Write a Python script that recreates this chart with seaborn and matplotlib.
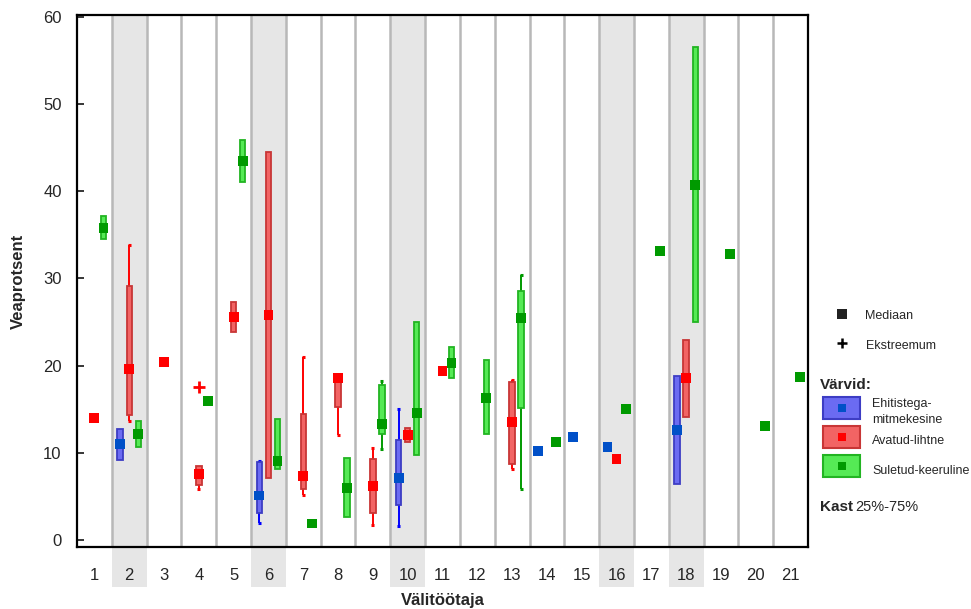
import numpy as np
import pandas as pd
import matplotlib
matplotlib.use("Agg")
import matplotlib.pyplot as plt
from matplotlib.patches import Rectangle
import seaborn as sns

# ---- data -------------------------------------------------------------
columns = list(range(1, 22))
groups = ["Ehitistega-mitmekesine", "Avatud-lihtne", "Suletud-keeruline"]
shaded_columns = [2, 6, 10, 16, 18]

nan = np.nan
# Ehitistega-mitmekesine
blue_median = [nan, 11.0, nan, nan, nan, 5.1, nan, nan, nan, 7.1, nan, nan, nan, 10.2, 11.8, 10.7, nan, 12.6, nan, nan, nan]
blue_q1     = [nan, 9.2,  nan, nan, nan, 3.1, nan, nan, nan, 4.0, nan, nan, nan, nan, nan, nan, nan, 6.4,  nan, nan, nan]
blue_q3     = [nan, 12.7, nan, nan, nan, 8.9, nan, nan, nan, 11.5, nan, nan, nan, nan, nan, nan, nan, 18.8, nan, nan, nan]
blue_low    = [nan, nan,  nan, nan, nan, 2.0, nan, nan, nan, 1.6, nan, nan, nan, nan, nan, nan, nan, nan,  nan, nan, nan]
blue_high   = [nan, nan,  nan, nan, nan, 9.1, nan, nan, nan, 15.0, nan, nan, nan, nan, nan, nan, nan, nan, nan, nan, nan]

# Avatud-lihtne
red_median = [14.0, 19.6, 20.4, 7.6, 25.6, 25.8, 7.3, 18.6, 6.2, 12.0, 19.4, nan, 13.5, nan, nan, 9.3, nan, 18.6, nan, nan, nan]
red_q1     = [nan, 14.3, nan, 6.3, 23.8, 7.1, 5.9, 15.2, 3.1, 11.2, nan, nan, 8.7, nan, nan, nan, nan, 14.1, nan, nan, nan]
red_q3     = [nan, 29.1, nan, 8.5, 27.3, 44.5, 14.4, 18.9, 9.3, 12.9, nan, nan, 18.1, nan, nan, nan, nan, 22.9, nan, nan, nan]
red_low    = [nan, 13.7, nan, 5.9, nan, nan, 5.2, 12.0, 1.75, nan, nan, nan, 8.1, nan, nan, nan, nan, nan, nan, nan, nan]
red_high   = [nan, 33.8, nan, nan, nan, nan, 21.0, nan, 10.5, nan, nan, nan, 18.3, nan, nan, nan, nan, nan, nan, nan, nan]
red_extreme = [nan, nan, nan, 17.5, nan, nan, nan, nan, nan, nan, nan, nan, nan, nan, nan, nan, nan, nan, nan, nan, nan]

# Suletud-keeruline
green_median = [35.8, 12.2, nan, 15.9, 43.5, 9.1, 1.9, 6.0, 13.3, 14.6, 20.3, 16.3, 25.5, 11.2, nan, 15.0, 33.1, 40.7, 32.8, 13.1, 18.7]
green_q1     = [34.5, 10.7, nan, nan, 41.1, 8.1, nan, 2.6, 12.2, 9.8, 18.6, 12.2, 15.1, 10.9, nan, nan, nan, 25.0, nan, nan, nan]
green_q3     = [37.2, 13.6, nan, nan, 45.9, 13.9, nan, 9.4, 17.8, 25.0, 22.1, 20.6, 28.5, 11.5, nan, nan, nan, 56.5, nan, nan, nan]
green_low    = [nan, nan, nan, nan, nan, nan, nan, nan, 10.4, nan, nan, nan, 5.9, nan, nan, nan, nan, nan, nan, nan, nan]
green_high   = [nan, nan, nan, nan, nan, nan, nan, nan, 18.2, nan, nan, nan, 30.4, nan, nan, nan, nan, nan, nan, nan, nan]

# ---- styling ------------------------------------------------------------
offsets = {groups[0]: -0.26, groups[1]: 0.0, groups[2]: 0.26}
box_fill = {groups[0]: "#6b6bf2", groups[1]: "#f26464", groups[2]: "#55ea55"}
box_edge = {groups[0]: "#3d3dc4", groups[1]: "#c83636", groups[2]: "#22b422"}
whisker_col = {groups[0]: "#0000ff", groups[1]: "#ff0000", groups[2]: "#009a00"}
median_col = {groups[0]: "#0050c8", groups[1]: "#ff0000", groups[2]: "#009a00"}

frames = []
for g, (m, q1, q3, lo, hi) in zip(groups, [
        (blue_median, blue_q1, blue_q3, blue_low, blue_high),
        (red_median, red_q1, red_q3, red_low, red_high),
        (green_median, green_q1, green_q3, green_low, green_high)]):
    frames.append(pd.DataFrame({"column": columns, "group": g, "median": m,
                                "q1": q1, "q3": q3, "low": lo, "high": hi}))
df = pd.concat(frames, ignore_index=True)
df["pos"] = df["column"] + df["group"].map(offsets)

sns.set_style("white")
plt.rcParams["font.family"] = ["Liberation Sans", "DejaVu Sans"]

W, H = 971, 609
fig = plt.figure(figsize=(W / 100, H / 100), dpi=100)
ax = fig.add_axes([77 / W, 1 - 547 / H, (808 - 77) / W, (547 - 15) / H])
ax.set_xlim(0.5, 21.5)
ax.set_ylim(-0.8, 60.2)

# column shading (extends under the tick labels) and separators
for c in shaded_columns:
    ax.axvspan(c - 0.5, c + 0.5, ymin=-0.075, ymax=1, color="#e6e6e6",
               lw=0, zorder=0, clip_on=False)
for b in np.arange(1.5, 21.5, 1.0):
    ax.axvline(b, color="#b8b8b8", lw=1.8, zorder=0.5)

box_w = 0.155
cap_w = 0.09
for g in groups:
    sub = df[df["group"] == g]
    boxes = sub.dropna(subset=["q1", "q3"])
    ax.bar(boxes["pos"], boxes["q3"] - boxes["q1"], bottom=boxes["q1"],
           width=box_w, color=box_fill[g], edgecolor=box_edge[g],
           linewidth=1.3, zorder=3)
    low = sub.dropna(subset=["low"])
    ax.vlines(low["pos"], low["low"], low["q1"], color=whisker_col[g], lw=1.4, zorder=2)
    ax.hlines(low["low"], low["pos"] - cap_w / 2, low["pos"] + cap_w / 2,
              color=whisker_col[g], lw=2.2, zorder=2)
    high = sub.dropna(subset=["high"])
    ax.vlines(high["pos"], high["q3"], high["high"], color=whisker_col[g], lw=1.4, zorder=2)
    ax.hlines(high["high"], high["pos"] - cap_w / 2, high["pos"] + cap_w / 2,
              color=whisker_col[g], lw=2.2, zorder=2)

# medians
sns.scatterplot(data=df.dropna(subset=["median"]), x="pos", y="median",
                hue="group", palette=median_col, marker="s", s=50,
                linewidth=0, legend=False, ax=ax, zorder=5)

# extreme values
ext = pd.DataFrame({"pos": np.array(columns) + offsets[groups[1]], "value": red_extreme}).dropna()
ax.plot(ext["pos"], ext["value"], linestyle="none", marker="+", ms=8,
        mew=2.0, color="#ff0000", zorder=5)

# axes, ticks and labels
ax.set_xticks(columns)
ax.set_xticklabels([str(c) for c in columns])
ax.set_yticks(np.arange(0, 61, 10))
ax.tick_params(axis="x", length=0, pad=15, labelsize=12)
ax.tick_params(axis="y", direction="in", length=5, width=1.3, pad=11,
               labelsize=12, left=True)
for s in ax.spines.values():
    s.set_color("black")
    s.set_linewidth(1.6)
    s.set_zorder(6)
ax.set_xlabel("Välitöötaja", fontsize=12, fontweight="bold")
ax.set_ylabel("Veaprotsent", fontsize=12, fontweight="bold")
ax.xaxis.set_label_coords(0.5, -0.087)
ax.yaxis.set_label_coords(-0.07, 0.5)

# key on the right
lax = fig.add_axes([0, 0, 1, 1])
lax.set_xlim(0, W)
lax.set_ylim(H, 0)
lax.axis("off")
key_fs = 9.0
lax.scatter([842], [314], marker="s", s=42, color="#222222", linewidth=0)
lax.text(865, 316, "Mediaan", fontsize=key_fs, va="center")
lax.plot([842], [343], marker="+", ms=7, mew=1.8, color="black")
lax.text(866, 346, "Ekstreemum", fontsize=key_fs, va="center")
lax.text(820, 385, "Värvid:", fontsize=11, fontweight="bold", va="center")
key_rows = [(397, 412, "Ehitistega-\nmitmekesine"), (426, 441, "Avatud-lihtne"),
            (455, 471, "Suletud-keeruline")]
for g, (top, ty, label) in zip(groups, key_rows):
    lax.add_patch(Rectangle((823, top), 37, 22, facecolor=box_fill[g],
                            edgecolor=box_edge[g], linewidth=1.5))
    lax.scatter([841.5], [top + 11], marker="s", s=30, color=median_col[g], linewidth=0)
    lax.text(872, ty, label, fontsize=key_fs, va="center", linespacing=1.55)
lax.text(820, 507, "Kast", fontsize=11, fontweight="bold", va="center")
lax.text(855, 507, "25%-75%", fontsize=10.5, va="center")

fig.savefig("out.png", dpi=100)
